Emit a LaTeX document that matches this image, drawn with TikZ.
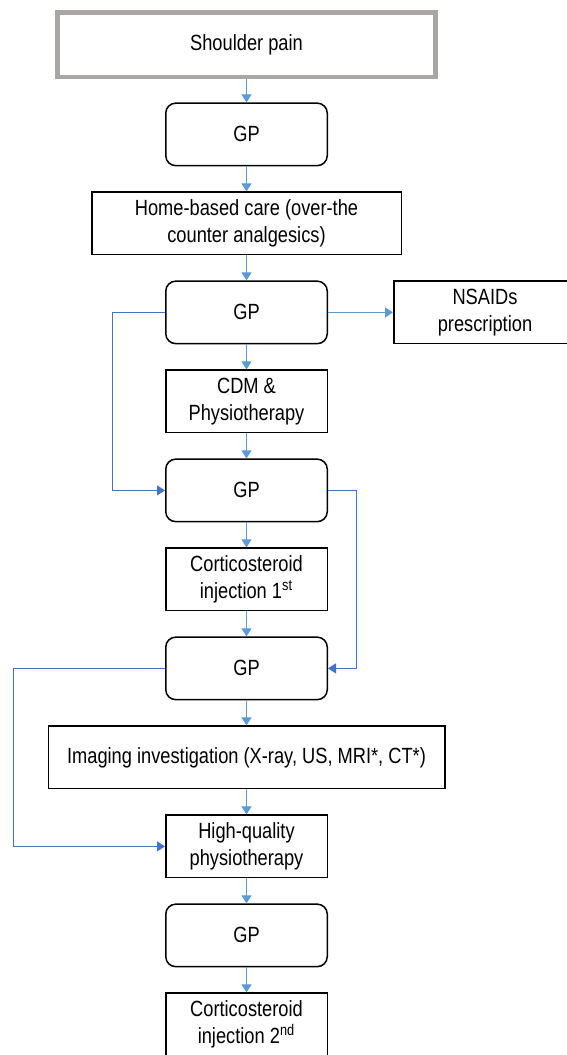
\documentclass[tikz,border=0pt]{standalone}
\usepackage{fontspec}
\setmainfont{Liberation Sans}[FakeStretch=0.83]
\usetikzlibrary{arrows.meta,positioning}
\definecolor{flowblue}{RGB}{91,155,213}
\definecolor{loopblue}{RGB}{68,114,196}
\definecolor{framegray}{RGB}{170,166,166}

\begin{document}
\begin{tikzpicture}[
  node distance=12.5pt and 32.5pt,
  box/.style={draw, line width=0.75pt, align=center, minimum width=80.75pt, minimum height=31.25pt, inner sep=2pt, font=\fontsize{11}{13.5}\selectfont},
  gp/.style={box, rounded corners=5pt},
  start/.style={box, draw=framegray, line width=2.4pt, minimum width=189.25pt, minimum height=32.25pt},
  arrow/.style={-{Triangle[length=4pt,width=5pt]}, flowblue, line width=0.5pt},
  loop/.style={-{Triangle[length=4pt,width=5pt]}, loopblue, line width=0.5pt}
]
\useasboundingbox (0,0) rectangle (283.5pt,-527.5pt);
\node[start] (pain) at (123.25pt,-22.375pt) {Shoulder pain};
\node[gp, below=11.5pt of pain] (gp1) {GP};
\node[box, below=of gp1, minimum width=154.75pt] (homecare) {Home-based care (over-the\\counter analgesics)};
\node[gp, below=of homecare] (gp2) {GP};
\node[box, right=of gp2, minimum width=91.25pt] (nsaids) {NSAIDs\\prescription};
\node[box, below=of gp2] (cdm) {CDM \&\\Physiotherapy};
\node[gp, below=of cdm] (gp3) {GP};
\node[box, below=of gp3] (inj1) {Corticosteroid\\injection 1\textsuperscript{st}};
\node[gp, below=of inj1] (gp4) {GP};
\node[box, below=of gp4, minimum width=198.25pt] (imaging) {Imaging investigation (X-ray, US, MRI*, CT*)};
\node[box, below=of imaging] (physio) {High-quality\\physiotherapy};
\node[gp, below=of physio] (gp5) {GP};
\node[box, below=of gp5] (inj2) {Corticosteroid\\injection 2\textsuperscript{nd}};

\draw[arrow] (pain) -- (gp1);
\draw[arrow] (gp1) -- (homecare);
\draw[arrow] (homecare) -- (gp2);
\draw[arrow] (gp2) -- (nsaids);
\draw[arrow] (gp2) -- (cdm);
\draw[arrow] (cdm) -- (gp3);
\draw[arrow] (gp3) -- (inj1);
\draw[arrow] (inj1) -- (gp4);
\draw[arrow] (gp4) -- (imaging);
\draw[arrow] (imaging) -- (physio);
\draw[arrow] (physio) -- (gp5);
\draw[arrow] (gp5) -- (inj2);
\draw[loop] (gp2.west) -- ++(-26.5pt,0) |- (gp3.west);
\draw[loop] (gp3.east) -- ++(14pt,0) |- (gp4.east);
\draw[loop] (gp4.west) -- ++(-76pt,0) |- (physio.west);
\end{tikzpicture}
\end{document}
